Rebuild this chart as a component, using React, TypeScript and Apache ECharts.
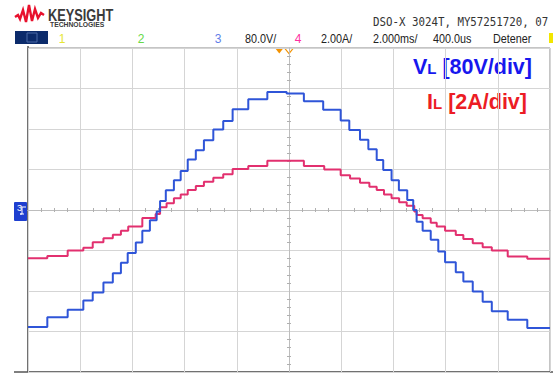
import React, { useEffect, useRef } from 'react';
import * as echarts from 'echarts';

// Time axis: 2 ms/div, 10 divisions, centred on the trigger (ms)
const timeMin = -10;
const timeMax = 10;
const timeDiv = 2;

// Channel 3: inductor voltage VL (80 V/div)
const voltStepTimes = [-10, -9.26, -8.48, -7.88, -7.52, -7.11, -6.75, -6.44, -6.18, -5.87, -5.62, -5.33, -5.07, -4.94, -4.72, -4.41, -4.15, -3.88, -3.57, -3.26, -2.9, -2.52, -2.16, -1.56, -0.83, -0.09, 0.57, 1.31, 1.98, 2.31, 2.72, 3.04, 3.36, 3.61, 3.93, 4.21, 4.53, 4.76, 4.89, 5.12, 5.43, 5.72, 5.98, 6.39, 6.68, 7.04, 7.42, 7.77, 8.38, 9.13, 10];
const voltLevels = [-231, -212, -197, -179, -163, -143, -125, -104, -85, -64, -41, -20, -3, 18, 39, 59, 77, 100, 118, 138, 159, 176, 199, 219, 233, 230, 215, 198, 177, 158, 139, 120, 99, 79, 59, 39, 20, 0, -23, -41, -59, -82, -103, -123, -141, -161, -181, -200, -217, -233, -233];

// Channel 4: inductor current IL (2 A/div)
const currStepTimes = [-10, -9.26, -8.48, -7.88, -7.52, -7.11, -6.75, -6.44, -6.16, -5.62, -5.11, -4.94, -4.69, -4.41, -4.15, -3.88, -3.57, -3.26, -2.9, -2.52, -2.16, -1.56, -0.83, 0.57, 1.35, 1.98, 2.34, 2.72, 3.08, 3.36, 3.64, 3.93, 4.22, 4.51, 4.8, 4.89, 5.12, 5.43, 5.66, 5.98, 6.39, 6.68, 7.04, 7.42, 7.77, 8.38, 9.13, 10];
const currLevels = [-2.38, -2.27, -2.0, -1.86, -1.59, -1.39, -1.22, -1.02, -0.82, -0.39, -0.2, 0.13, 0.33, 0.58, 0.77, 0.99, 1.18, 1.39, 1.59, 1.77, 2.02, 2.17, 2.43, 2.17, 2.0, 1.72, 1.56, 1.34, 1.15, 0.99, 0.77, 0.58, 0.38, 0.21, -0.08, -0.25, -0.41, -0.63, -0.82, -1.03, -1.23, -1.43, -1.64, -1.84, -2.0, -2.3, -2.41, -2.41];

const voltPerDiv = 80;
const ampPerDiv = 2;
const vertDivs = 4;

// Header / status texts
const headerModel = 'DSO-X 3024T, MY57251720, 07';
const statusTexts = [
  { text: '80.0V/', x: 245 },
  { text: '2.00A/', x: 321 },
  { text: '2.000ms/', x: 373 },
  { text: '400.0us', x: 433 },
  { text: 'Detener', x: 493 },
];
const channelMarks = [
  { text: '1', x: 62, color: '#e6e633' },
  { text: '2', x: 141, color: '#66d948' },
  { text: '3', x: 218, color: '#5f7fe8' },
  { text: '4', x: 298, color: '#ff2fa0' },
];

const BLUE = '#2f55d8';
const RED = '#e2306f';

export default function App() {
  const ref = useRef<HTMLDivElement>(null);
  useEffect(() => {
    const chart = echarts.init(ref.current!, null, { renderer: 'svg' });
    const gridColor = '#d5d5d5';
    const axisLineColor = '#bdbdbd';
    const statusFont = '12px "Liberation Sans", Arial, sans-serif';
    const labelFont = (size: number) => `bold ${size}px "Liberation Sans", Arial, sans-serif`;

    const graphics: any[] = [
      // Keysight logo wave
      {
        type: 'polyline',
        shape: { points: [[15, 17], [18, 15], [20, 19], [23, 10], [26, 22], [29, 5], [32, 21], [35, 9], [38, 18], [41, 13], [44, 15]] },
        style: { stroke: '#e8112d', lineWidth: 2.4, fill: 'none', lineJoin: 'miter' },
      },
      {
        type: 'text', x: 48, y: 7, scaleX: 0.8,
        style: { text: 'KEYSIGHT', font: 'bold 16px "Liberation Sans", Arial, sans-serif', fill: '#3a3a3a', textAlign: 'left', align: 'left', textVerticalAlign: 'top', verticalAlign: 'top' },
      },
      {
        type: 'text', x: 50, y: 20.5, scaleX: 0.85,
        style: { text: 'TECHNOLOGIES', font: 'bold 8px "Liberation Sans", Arial, sans-serif', fill: '#3a3a3a', textAlign: 'left', align: 'left', textVerticalAlign: 'top', verticalAlign: 'top' },
      },
      {
        type: 'text', x: 373, y: 21.5, scaleX: 0.83,
        style: { text: headerModel, font: '13px "DejaVu Sans Mono", monospace', fill: '#333', textAlign: 'left', align: 'left', textVerticalAlign: 'middle', verticalAlign: 'middle' },
      },
      // status bar navy box
      { type: 'rect', shape: { x: 15, y: 31, width: 33, height: 13 }, style: { fill: '#0c2b6b' } },
      { type: 'rect', shape: { x: 27, y: 33, width: 10, height: 9 }, style: { fill: 'none', stroke: '#4a6aa8', lineWidth: 1 } },
      ...channelMarks.map((c) => ({
        type: 'text', x: c.x, y: 38.5,
        style: { text: c.text, font: statusFont, fill: c.color, textAlign: 'center', align: 'center', textVerticalAlign: 'middle', verticalAlign: 'middle' },
      })),
      ...statusTexts.map((s) => ({
        type: 'text', x: s.x, y: 38.5, scaleX: 0.9,
        style: { text: s.text, font: statusFont, fill: '#222', textAlign: 'left', align: 'left', textVerticalAlign: 'middle', verticalAlign: 'middle' },
      })),
      { type: 'rect', shape: { x: 549, y: 33, width: 4, height: 10 }, style: { fill: '#f2e600' } },
      // trigger markers
      { type: 'polygon', shape: { points: [[275, 48], [283.5, 48], [279.3, 53.5]] }, style: { fill: '#f39200' } },
      { type: 'polygon', shape: { points: [[285, 48.5], [293, 48.5], [289, 53.5]] }, style: { fill: '#fff', stroke: '#f39200', lineWidth: 1.2 } },
      // frame lines
      { type: 'line', shape: { x1: 28, y1: 46, x2: 28, y2: 372 }, style: { stroke: '#555', lineWidth: 1.5 } },
      { type: 'line', shape: { x1: 14, y1: 372, x2: 553, y2: 372 }, style: { stroke: '#555', lineWidth: 1.5 } },
      // channel 3 ground marker
      { type: 'rect', shape: { x: 14, y: 202, width: 13, height: 19, r: 1 }, style: { fill: '#1e3fd0' } },
      {
        type: 'text', x: 17, y: 208,
        style: { text: '3', font: '9px "Liberation Sans", Arial, sans-serif', fill: '#fff', textAlign: 'left', align: 'left', textVerticalAlign: 'middle', verticalAlign: 'middle' },
      },
      { type: 'polyline', shape: { points: [[21, 207], [26, 207]] }, style: { stroke: '#fff', lineWidth: 1 } },
      { type: 'polyline', shape: { points: [[22, 207], [22, 214], [20, 214], [24, 214]] }, style: { stroke: '#fff', lineWidth: 1, fill: 'none' } },
      // channel labels
      {
        type: 'text', x: 532, y: 66,
        style: {
          text: '{a|V}{b|L}{a| [80V/div]}',
          fill: '#1717ee', textAlign: 'right', align: 'right', textVerticalAlign: 'middle', verticalAlign: 'middle',
          rich: {
            a: { font: labelFont(21.5), fill: '#1717ee', verticalAlign: 'bottom', lineHeight: 24 },
            b: { font: labelFont(15), fill: '#1717ee', verticalAlign: 'bottom', lineHeight: 17, padding: [0, 0, 2, 0] },
          },
        },
      },
      {
        type: 'text', x: 527, y: 101,
        style: {
          text: '{a|I}{b|L}{a| [2A/div]}',
          fill: '#ec1c24', textAlign: 'right', align: 'right', textVerticalAlign: 'middle', verticalAlign: 'middle',
          rich: {
            a: { font: labelFont(21.5), fill: '#ec1c24', verticalAlign: 'bottom', lineHeight: 24 },
            b: { font: labelFont(15), fill: '#ec1c24', verticalAlign: 'bottom', lineHeight: 17, padding: [0, 0, 2, 0] },
          },
        },
      },
    ];

    const baseX = {
      type: 'value', min: timeMin, max: timeMax, interval: timeDiv, position: 'bottom',
      axisLabel: { show: false },
      axisTick: { show: false },
      axisLine: { show: true, onZero: true, lineStyle: { color: axisLineColor, width: 1 } },
      minorTick: { show: true, splitNumber: 4, length: 2, lineStyle: { color: '#b0b0b0', width: 1 } },
    };

    chart.setOption({
      animation: false,
      backgroundColor: '#ffffff',
      grid: { left: 28, top: 48, width: 522, height: 324, show: true, borderColor: '#8a8a8a', borderWidth: 1, backgroundColor: 'transparent' },
      xAxis: [
        { ...baseX, splitLine: { show: true, lineStyle: { color: gridColor, width: 1 } } },
        { ...baseX, axisTick: { show: false, inside: true }, splitLine: { show: false } },
      ],
      yAxis: [
        {
          type: 'value', min: -vertDivs * voltPerDiv, max: vertDivs * voltPerDiv, interval: voltPerDiv, position: 'left',
          axisLabel: { show: false }, axisTick: { show: false },
          axisLine: { show: true, onZero: true, lineStyle: { color: axisLineColor, width: 1 } },
          minorTick: { show: true, splitNumber: 5, length: 2, lineStyle: { color: '#b0b0b0', width: 1 } },
          splitLine: { show: true, lineStyle: { color: gridColor, width: 1 } },
        },
        {
          type: 'value', min: -vertDivs * ampPerDiv, max: vertDivs * ampPerDiv, interval: ampPerDiv, position: 'left',
          axisLabel: { show: false }, axisTick: { show: false, inside: true },
          axisLine: { show: true, onZero: true, lineStyle: { color: axisLineColor, width: 1 } },
          minorTick: { show: true, splitNumber: 5, length: 2, lineStyle: { color: '#b0b0b0', width: 1 } },
          splitLine: { show: false },
        },
      ],
      series: [
        {
          name: 'IL', type: 'line', step: 'end', xAxisIndex: 0, yAxisIndex: 1,
          data: currStepTimes.map((t, i) => [t, currLevels[i]]),
          showSymbol: false, symbol: 'none',
          lineStyle: { color: RED, width: 2 }, z: 3,
        },
        {
          name: 'VL', type: 'line', step: 'end', xAxisIndex: 0, yAxisIndex: 0,
          data: voltStepTimes.map((t, i) => [t, voltLevels[i]]),
          showSymbol: false, symbol: 'none',
          lineStyle: { color: BLUE, width: 2 }, z: 4,
        },
      ],
      graphic: graphics,
    });
    return () => chart.dispose();
  }, []);
  return <div ref={ref} style={{ position: 'fixed', left: 0, top: 0, width: 553, height: 373, background: '#fff' }} />;
}
